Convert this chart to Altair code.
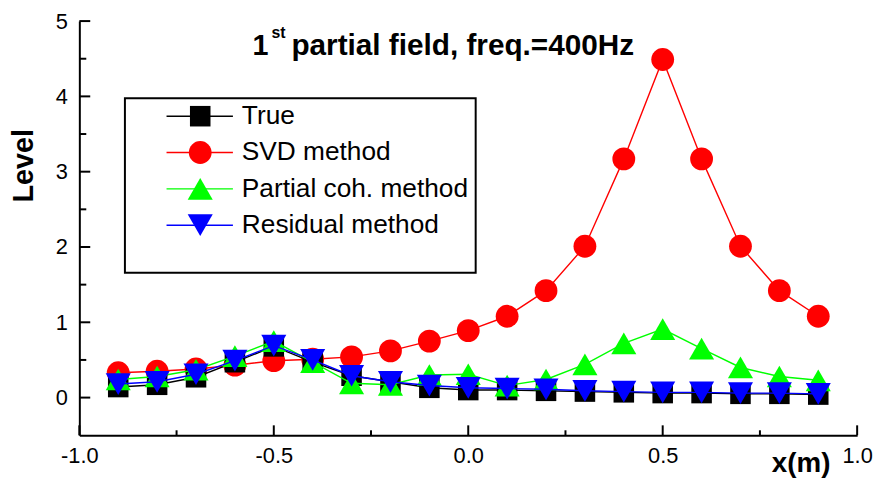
import altair as alt
import pandas as pd

# ---- data ----
x_vals = [-0.9, -0.8, -0.7, -0.6, -0.5, -0.4, -0.3, -0.2, -0.1, 0.0,
          0.1, 0.2, 0.3, 0.4, 0.5, 0.6, 0.7, 0.8, 0.9]
true_vals = [0.14, 0.17, 0.27, 0.47, 0.68, 0.47, 0.29, 0.21, 0.13, 0.10,
             0.10, 0.09, 0.08, 0.07, 0.06, 0.06, 0.05, 0.05, 0.04]
svd_vals = [0.33, 0.35, 0.38, 0.43, 0.49, 0.51, 0.54, 0.62, 0.75, 0.89,
            1.08, 1.42, 2.01, 3.17, 4.49, 3.17, 2.01, 1.42, 1.08]
pc_vals = [0.24, 0.28, 0.37, 0.55, 0.75, 0.47, 0.19, 0.17, 0.30, 0.31,
           0.16, 0.24, 0.44, 0.72, 0.91, 0.65, 0.40, 0.28, 0.23]
res_vals = [0.18, 0.21, 0.31, 0.49, 0.69, 0.50, 0.29, 0.21, 0.16, 0.13,
            0.12, 0.11, 0.09, 0.08, 0.07, 0.07, 0.06, 0.06, 0.05]

series_names = ["True", "SVD method", "Partial coh. method", "Residual method"]
series_values = [true_vals, svd_vals, pc_vals, res_vals]

x_major = [-1.0, -0.5, 0.0, 0.5, 1.0]
x_minor = [-0.75, -0.25, 0.25, 0.75]
y_major = [0, 1, 2, 3, 4, 5]
y_minor = [0.5, 1.5, 2.5, 3.5, 4.5]

title_main = "partial field, freq.=400Hz"
title_num = "1"
title_sup = "st"
y_title = "Level"
x_title = "x(m)"

# ---- styles ----
series_colors = ["#000000", "#ff0000", "#00ff00", "#0000ff"]
series_shapes = ["square", "circle", "triangle-up", "triangle-down"]
series_sizes = [430, 530, 640, 640]
draw_order = [1, 0, 2, 3]
FONT = "Liberation Sans"

W, H = 785, 418
xs = alt.Scale(domain=[-1, 1], nice=False, zero=False)
ys = alt.Scale(domain=[-0.5, 5], nice=False, zero=False)

x_axis = alt.Axis(values=x_major, ticks=False, grid=False, title=None, labelFlush=False,
                  domainColor="black", domainWidth=2,
                  labelFont=FONT, labelFontSize=22, labelColor="black", labelPadding=11,
                  labelExpr="datum.value < 0 ? '-' + format(-datum.value, '.1f') : format(datum.value, '.1f')")
y_axis = alt.Axis(values=y_major, ticks=False, grid=False, title=None, labelFlush=False,
                  domainColor="black", domainWidth=2, format="d",
                  labelFont=FONT, labelFontSize=22, labelColor="black", labelPadding=12)

layers = []

# axes carrier (invisible)
axis_df = pd.DataFrame({"x": [x_major[0]], "y": [y_major[0]]})
layers.append(alt.Chart(axis_df).mark_point(opacity=0).encode(
    x=alt.X("x:Q", scale=xs, axis=x_axis),
    y=alt.Y("y:Q", scale=ys, axis=y_axis)))

# ticks (inward)
def tick_layer(vals, axis, length):
    df = pd.DataFrame({"v": vals})
    if axis == "x":
        return alt.Chart(df).mark_rule(color="black", strokeWidth=2).encode(
            x=alt.X("v:Q", scale=xs, axis=x_axis),
            y=alt.value(H), y2=alt.value(H - length))
    return alt.Chart(df).mark_rule(color="black", strokeWidth=2).encode(
        y=alt.Y("v:Q", scale=ys, axis=None),
        x=alt.value(0), x2=alt.value(length))

layers += [tick_layer(x_major, "x", 10), tick_layer(x_minor, "x", 5),
           tick_layer(y_major, "y", 11), tick_layer(y_minor, "y", 7)]

# data series
for i in draw_order:
    df = pd.DataFrame({"x": x_vals, "y": series_values[i]})
    base = alt.Chart(df).encode(
        x=alt.X("x:Q", scale=xs, axis=x_axis),
        y=alt.Y("y:Q", scale=ys, axis=None))
    layers.append(base.mark_line(color=series_colors[i], strokeWidth=1.4))
    layers.append(base.mark_point(filled=True, opacity=1, color=series_colors[i],
                                  shape=series_shapes[i], size=series_sizes[i]))

# legend box
layers.append(alt.Chart(pd.DataFrame({"a": [0]})).mark_rect(
    fill="white", stroke="black", strokeWidth=2).encode(
    x=alt.value(46), x2=alt.value(400), y=alt.value(78), y2=alt.value(254)))

leg_df = pd.DataFrame({
    "name": series_names,
    "row": list(range(len(series_names))),
    "color": series_colors,
    "shape": series_shapes,
    "size": series_sizes,
})
row_scale = alt.Scale(domain=[0, 3], range=[96, 206], nice=False, zero=False)
leg_base = alt.Chart(leg_df).encode(y=alt.Y("row:Q", scale=row_scale, axis=None))
layers.append(leg_base.mark_rule(strokeWidth=1.4).encode(
    x=alt.value(88), x2=alt.value(155), color=alt.Color("color:N", scale=None)))
layers.append(leg_base.mark_point(filled=True, opacity=1).encode(
    x=alt.value(122), color=alt.Color("color:N", scale=None),
    shape=alt.Shape("shape:N", scale=None), size=alt.Size("size:Q", scale=None)))
layers.append(leg_base.mark_text(align="left", baseline="middle", font=FONT,
                                 fontSize=26.5, color="black").encode(
    x=alt.value(164), text="name:N"))

# title with superscript
one = pd.DataFrame({"a": [0]})
layers.append(alt.Chart(one).mark_text(text=title_num, align="right", baseline="alphabetic",
                                      font=FONT, fontSize=29, fontWeight="bold", color="black").encode(
    x=alt.value(191), y=alt.value(34)))
layers.append(alt.Chart(one).mark_text(text=title_sup, align="left", baseline="alphabetic",
                                      font=FONT, fontSize=16, fontWeight="bold", color="black").encode(
    x=alt.value(194), y=alt.value(17)))
layers.append(alt.Chart(one).mark_text(text=title_main, align="left", baseline="alphabetic",
                                      font=FONT, fontSize=30, fontWeight="bold", color="black").encode(
    x=alt.value(214), y=alt.value(34)))

# axis titles
layers.append(alt.Chart(one).mark_text(text=y_title, align="center", baseline="middle", angle=270,
                                      font=FONT, fontSize=29, fontWeight="bold", color="black").encode(
    x=alt.value(-56), y=alt.value(146)))
layers.append(alt.Chart(one).mark_text(text=x_title, align="right", baseline="alphabetic",
                                      font=FONT, fontSize=28, fontWeight="bold", color="black").encode(
    x=alt.value(758), y=alt.value(455)))

chart = alt.layer(*layers).resolve_scale(y="independent").properties(
    width=W, height=H,
    padding={"left": 72, "top": 11, "right": 16, "bottom": 46},
    autosize=alt.AutoSizeParams(type="none"),
    background="white",
).configure_view(strokeWidth=0)

chart.save("out.html", embed_options={"renderer": "svg", "actions": False})
